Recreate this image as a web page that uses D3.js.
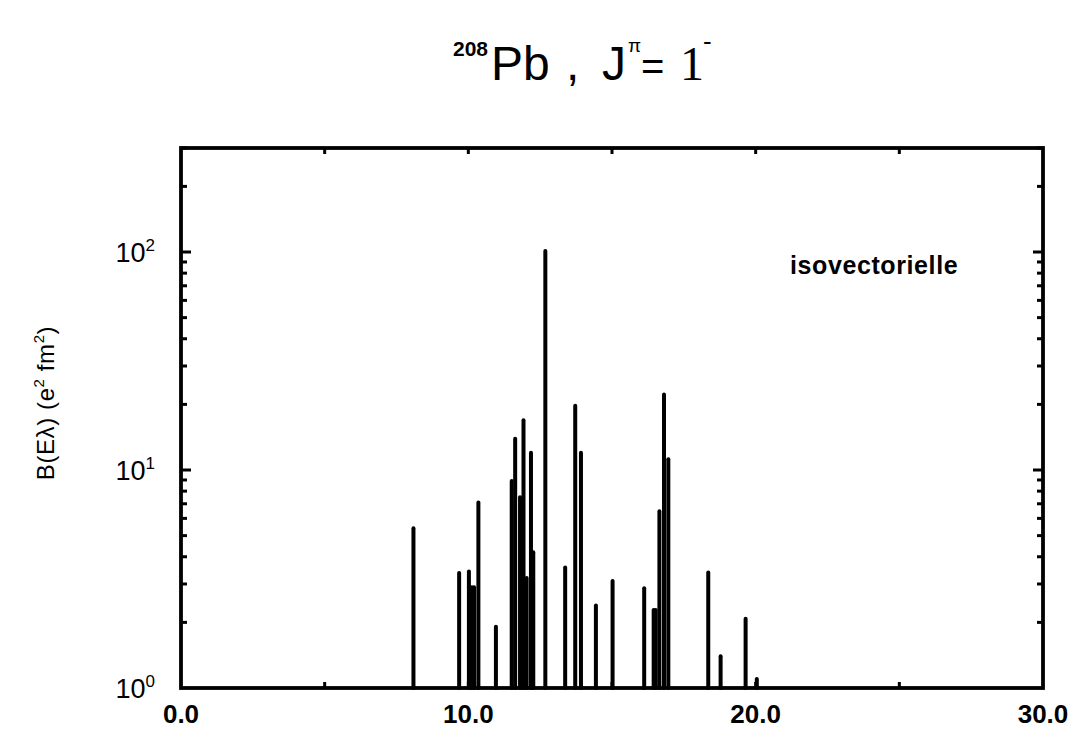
<!DOCTYPE html>
<html lang="fr">
<head>
    <meta charset="UTF-8">
    <title>208Pb J=1-</title>
    <script src="https://d3js.org/d3.v7.min.js"></script>
</head>
<style>
    html,body{
        margin:0px;
        padding:0px;
        background:#fff;
    }
    svg text{
        font-family:"Liberation Sans",Arial,sans-serif;
        fill:#000;
    }
</style>
<body>
<div id="chart"></div>
<script>
    // energies (MeV) and B(E1) strengths (e^2 fm^2)
    const energies = [8.09, 9.68, 10.02, 10.12, 10.2, 10.35, 10.96, 11.51, 11.63, 11.80,
        11.92, 12.03, 12.18, 12.26, 12.68, 13.37, 13.72, 13.92, 14.44, 15.02,
        16.12, 16.45, 16.52, 16.65, 16.81, 16.96, 18.35, 18.78, 19.65, 20.04];
    const strengths = [5.4, 3.37, 3.42, 2.9, 2.9, 7.1, 1.91, 8.9, 13.9, 7.5,
        16.9, 3.2, 12.0, 4.2, 101, 3.57, 19.7, 12.0, 2.39, 3.1,
        2.87, 2.28, 2.28, 6.47, 22.2, 11.2, 3.39, 1.40, 2.08, 1.10];
    const xTicks = [0, 5, 10, 15, 20, 25, 30];
    const xLabels = [0, 10, 20, 30];
    const yDecades = [1, 10, 100];

    const W = 1077, H = 732;
    const pLeft = 181, pRight = 1043, pTop = 148, pBottom = 688;

    const svg = d3.select("#chart").append("svg")
        .attr("width", W).attr("height", H);

    const x = d3.scaleLinear().domain([0, 30]).range([pLeft, pRight]);
    const y = d3.scaleLog().domain([1, 300]).range([pBottom, pTop]);

    // bars
    const g = svg.append("g");
    energies.forEach(function(e, i){
        g.append("line")
            .attr("x1", x(e)).attr("x2", x(e))
            .attr("y1", y(1)).attr("y2", y(strengths[i]))
            .attr("stroke", "#000")
            .attr("stroke-width", 4)
            .attr("stroke-linecap", "round");
    });

    // frame
    svg.append("rect")
        .attr("x", pLeft).attr("y", pTop)
        .attr("width", pRight - pLeft).attr("height", pBottom - pTop)
        .attr("fill", "none").attr("stroke", "#000").attr("stroke-width", 3.8);

    // y ticks, inward on both sides
    const yt = y.ticks().filter(d => d > 1 && d <= 300);
    yt.forEach(function(d){
        const major = yDecades.indexOf(d) >= 0;
        const len = major ? 10 : 6;
        svg.append("line").attr("x1", pLeft).attr("x2", pLeft + len)
            .attr("y1", y(d)).attr("y2", y(d))
            .attr("stroke", "#000").attr("stroke-width", 3);
        svg.append("line").attr("x1", pRight).attr("x2", pRight - len)
            .attr("y1", y(d)).attr("y2", y(d))
            .attr("stroke", "#000").attr("stroke-width", 3);
    });

    // x ticks, inward top and bottom
    xTicks.forEach(function(d){
        if (d == 0 || d == 30) return;
        svg.append("line").attr("x1", x(d)).attr("x2", x(d))
            .attr("y1", pBottom).attr("y2", pBottom - 6)
            .attr("stroke", "#000").attr("stroke-width", 3);
        svg.append("line").attr("x1", x(d)).attr("x2", x(d))
            .attr("y1", pTop).attr("y2", pTop + 6)
            .attr("stroke", "#000").attr("stroke-width", 3);
    });

    // x labels
    svg.selectAll(".xl").data(xLabels).enter().append("text")
        .attr("x", d => x(d)).attr("y", 723)
        .attr("text-anchor", "middle")
        .style("font-size", "26px").style("font-weight", "bold")
        .text(d => d3.format(".1f")(d));

    // y labels 10^n
    yDecades.forEach(function(d, i){
        const t = svg.append("text")
            .attr("x", 155).attr("y", y(d) + 10)
            .attr("text-anchor", "end")
            .style("font-size", "27px");
        t.append("tspan").text("10");
        t.append("tspan").attr("dy", -11).style("font-size", "17px").text(String(i));
    });

    // y axis title
    const yl = svg.append("text")
        .attr("transform", "translate(54,403) rotate(-90)")
        .attr("text-anchor", "middle")
        .style("font-size", "24px")
        .style("letter-spacing", "0.6px");
    yl.append("tspan").text("B(Eλ) (e");
    yl.append("tspan").attr("dy", -10).style("font-size", "15px").text("2");
    yl.append("tspan").attr("dy", 10).text(" fm");
    yl.append("tspan").attr("dy", -10).style("font-size", "15px").text("2");
    yl.append("tspan").attr("dy", 10).text(")");

    // annotation
    svg.append("text").attr("x", 790).attr("y", 274)
        .style("font-size", "25px").style("font-weight", "bold")
        .style("letter-spacing", "0.6px")
        .text("isovectorielle");

    // title
    const tt = svg.append("text").attr("y", 80).style("font-size", "48px");
    tt.append("tspan").attr("x", 453).attr("y", 56).style("font-size", "21px").style("font-weight", "bold").text("208");
    tt.append("tspan").attr("x", 491).attr("y", 80).text("Pb");
    tt.append("tspan").attr("x", 566).attr("y", 80).text(",");
    tt.append("tspan").attr("x", 602).attr("y", 80).text("J");
    tt.append("tspan").attr("x", 628).attr("y", 52).style("font-size", "19px").text("π");
    tt.append("tspan").attr("x", 641).attr("y", 80).style("font-size", "40px").text("=");
    tt.append("tspan").attr("x", 680).attr("y", 80).style("font-family", "'Liberation Serif',serif").text("1");
    tt.append("tspan").attr("x", 703).attr("y", 50).style("font-size", "26px").text("-");
</script>
</body>
</html>
